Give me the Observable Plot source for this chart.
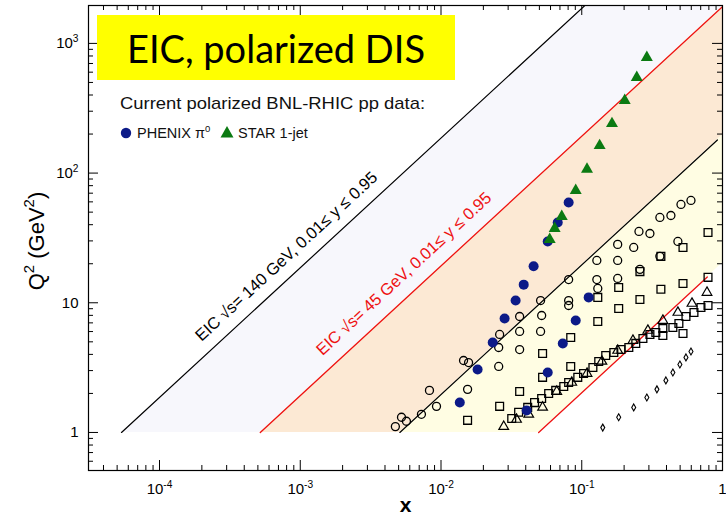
<!DOCTYPE html>
<html>
<head>
<meta charset="utf-8">
<script src="https://cdn.jsdelivr.net/npm/d3@7"></script>
<script src="https://cdn.jsdelivr.net/npm/@observablehq/plot@0.6"></script>
<style>
  html, body { margin: 0; padding: 0; background: #fff; }
  #wrap { position: relative; width: 726px; height: 519px; overflow: hidden; font-family: "Liberation Sans", Arial, sans-serif; }
  #chart { position: absolute; left: 0; top: 0; }
  #title { position: absolute; left: 97px; top: 15px; width: 358px; height: 65px; background: #ffff00; overflow: hidden; }
  #title span { position: absolute; left: 30px; top: 10px; font-family: Lato, "Open Sans", sans-serif; font-size: 39px; line-height: normal; white-space: nowrap; color: #000; transform-origin: left top; }
  #legtitle { position: absolute; left: 120px; top: 94px; font-size: 17px; line-height: normal; white-space: nowrap; color: #111; transform-origin: left top; }
  .legtxt { position: absolute; top: 125px; font-size: 14.5px; line-height: normal; white-space: nowrap; color: #111; }
  .legtxt sup { font-size: 9.5px; vertical-align: 6px; line-height: 0; }
  #legsym { position: absolute; left: 110px; top: 120px; width: 140px; height: 26px; }
</style>
</head>
<body>
<div id="wrap">
  <div id="chart"></div>
  <div id="title"><span id="titletext">EIC, polarized DIS</span></div>
  <div id="legtitle">Current polarized BNL-RHIC pp data:</div>
  <svg id="legsym" viewBox="0 0 140 26">
    <circle cx="16" cy="13" r="5.2" fill="#0c1a88"></circle>
    <path d="M117,6 L123.5,17.5 L110.5,17.5 Z" fill="#0b7a12"></path>
  </svg>
  <div class="legtxt" style="left:137px">PHENIX π<sup>0</sup></div>
  <div class="legtxt" style="left:238px">STAR 1-jet</div>
</div>
<script>
// ---------- data ----------
// PHENIX pi0 (filled blue circles)
const phenixX  = [0.0136, 0.0182, 0.0233, 0.0283, 0.0339, 0.0387, 0.0455, 0.0573, 0.0675, 0.0807, 0.0406, 0.0573, 0.0733, 0.0906, 0.112];
const phenixQ2 = [1.70, 3.06, 4.94, 7.57, 10.4, 13.8, 19.1, 29.7, 41.6, 59.3, 1.48, 2.90, 4.86, 7.30, 11.0];
// STAR 1-jet (filled green triangles)
const starX  = [0.0592, 0.0642, 0.0721, 0.0906, 0.109, 0.134, 0.164, 0.202, 0.246, 0.290];
const starQ2 = [30.8, 37.4, 46.3, 73.4, 107, 163, 241, 363, 546, 778];
// fixed-target polarized DIS data: open circles
const circX  = [0.00474, 0.00524, 0.00568, 0.00726, 0.00929, 0.00828, 0.01545, 0.01446, 0.0157, 0.0257, 0.0257, 0.0261, 0.0362, 0.0362, 0.0362, 0.0510, 0.0519, 0.0510, 0.0807, 0.0807, 0.0807, 0.128, 0.130, 0.128, 0.180, 0.180, 0.180, 0.255, 0.305, 0.234, 0.259, 0.359, 0.430, 0.507, 0.597, 0.482, 0.359];
const circQ2 = [1.11, 1.31, 1.22, 1.38, 1.59, 2.11, 2.15, 3.59, 3.46, 3.23, 4.52, 5.70, 4.36, 6.01, 7.84, 6.01, 7.98, 10.4, 9.53, 10.4, 15.1, 15.1, 12.9, 21.2, 21.2, 15.4, 28.2, 35.5, 34.2, 26.7, 18.1, 45.5, 47.1, 57.3, 61.5, 29.7, 22.8];
// open squares
const sqX  = [0.01545, 0.0261, 0.0362, 0.0527, 0.0527, 0.0835, 0.0835, 0.130, 0.130, 0.183, 0.183, 0.259, 0.259, 0.365, 0.365, 0.524, 0.524, 0.789, 0.789, 0.524,
              0.0318, 0.0356, 0.0413, 0.0462, 0.0519, 0.0582, 0.0653, 0.0745, 0.0807, 0.0937, 0.103, 0.120, 0.132, 0.148, 0.169, 0.190, 0.216, 0.242, 0.272, 0.305, 0.336, 0.377, 0.377, 0.444, 0.490, 0.550, 0.627, 0.703, 0.789];
const sqQ2 = [1.24, 1.59, 2.07, 2.66, 4.06, 3.23, 5.40, 7.18, 11.0, 9.04, 13.1, 10.6, 17.4, 12.7, 22.8, 14.1, 26.7, 15.7, 34.8, 5.80,
              1.28, 1.43, 1.56, 1.70, 1.83, 2.00, 2.11, 2.26, 2.43, 2.66, 2.85, 3.17, 3.53, 3.92, 4.14, 4.36, 4.52, 4.86, 5.30, 5.70, 5.90, 6.34, 5.60, 6.45, 6.92, 7.84, 8.42, 9.20, 9.53];
// open triangles
const triX  = [0.0279, 0.0344, 0.0420, 0.0527, 0.0664, 0.0849, 0.109, 0.139, 0.180, 0.231, 0.295, 0.377, 0.482, 0.607, 0.776];
const triQ2 = [1.11, 1.26, 1.38, 1.56, 2.07, 2.43, 2.85, 3.53, 4.29, 5.12, 6.12, 7.30, 8.42, 9.88, 12.0];
// small open diamonds
const diaX  = [0.141, 0.183, 0.234, 0.290, 0.342, 0.396, 0.444, 0.498, 0.550, 0.597];
const diaQ2 = [1.09, 1.31, 1.56, 1.86, 2.15, 2.52, 2.90, 3.34, 3.79, 4.21];

// kinematic boundary lines (end points)
const line140X = [5.37e-5, 0.12],  line140Q2 = [1, 2234];
const line45X  = [5.2e-4, 1.1],    line45Q2  = [1, 2116];
const lineLowBX = [5.1e-3, 0.92],  lineLowBQ2 = [1, 180];
const lineLowRX = [0.0494, 0.78],  lineLowRQ2 = [1, 15.8];

// shaded regions (x, lower Q2, upper Q2)
const lavX = [5.37e-5, 5.2e-4, 1.1], lavLo = [1, 1, 2116], lavHi = [1, 9.68, 20482];
const pchX = [5.2e-4, 5.1e-3, 1.1],  pchLo = [1, 1, 216],  pchHi = [1, 9.81, 2116];
const ylwX = [5.1e-3, 0.0494, 1.1],  ylwLo = [1, 1, 22.3], ylwHi = [1, 9.69, 216];

// annotations
const annText  = ["EIC \u221As= 140 GeV, 0.01\u2264 y \u2264 0.95", "EIC \u221As= 45 GeV, 0.01\u2264 y \u2264 0.95"];
const annX     = [8.46e-4, 5.78e-3];
const annQ2    = [21.2, 15.6];
const annColor = ["black", "#ee1111"];

// axes
const xDomain = [3.13e-5, 1];
const yDomain = [0.509, 1960];
const xMajor = [1e-4, 1e-3, 1e-2, 1e-1, 1];
const xLabels = ["10^-4", "10^-3", "10^-2", "10^-1", "1"];
const yMajor = [1, 10, 100, 1000];
const yLabels = ["1", "10", "10^2", "10^3"];
const xTitle = "x";
const yTitle = "Q^2 (GeV^2)";

// ---------- build ----------
const zip = (xs, ys) => xs.map((x, i) => ({x, y: ys[i]}));
const zip3 = (xs, lo, hi) => xs.map((x, i) => ({x, lo: lo[i], hi: hi[i]}));
const ann = annText.map((t, i) => ({t, x: annX[i], y: annQ2[i], c: annColor[i]}));

const xMinor = [], yMinor = [];
for (let e = -5; e <= -1; e++) for (let m = 2; m <= 9; m++) { const v = m * Math.pow(10, e); if (v > xDomain[0] && v < xDomain[1]) xMinor.push(v); }
for (let e = -1; e <= 3; e++) for (let m = 2; m <= 9; m++) { const v = m * Math.pow(10, e); if (v > yDomain[0] && v < yDomain[1]) yMinor.push(v); }

const W = 726, H = 519, mL = 88, mR = 4, mT = 5, mB = 49;
const pw = W - mL - mR, ph = H - mT - mB;
const majLen = 10, minLen = 5;

const chart = Plot.plot({
  width: W, height: H,
  marginLeft: mL, marginRight: mR, marginTop: mT, marginBottom: mB,
  style: {fontFamily: "'Liberation Sans', Arial, sans-serif", fontSize: "15px", color: "black", background: "transparent", overflow: "visible"},
  x: {type: "log", domain: xDomain},
  y: {type: "log", domain: yDomain},
  marks: [
    Plot.areaY(zip3(lavX, lavLo, lavHi), {x: "x", y1: "lo", y2: "hi", fill: "#f7f7fc", clip: true}),
    Plot.areaY(zip3(pchX, pchLo, pchHi), {x: "x", y1: "lo", y2: "hi", fill: "#fce9d4", clip: true}),
    Plot.areaY(zip3(ylwX, ylwLo, ylwHi), {x: "x", y1: "lo", y2: "hi", fill: "#fffde3", clip: true}),
    Plot.line(zip(line140X, line140Q2), {x: "x", y: "y", stroke: "black", strokeWidth: 1.2, clip: true}),
    Plot.line(zip(line45X, line45Q2), {x: "x", y: "y", stroke: "#ee1111", strokeWidth: 1.3, clip: true}),
    Plot.line(zip(lineLowBX, lineLowBQ2), {x: "x", y: "y", stroke: "black", strokeWidth: 1.2, clip: true}),
    Plot.line(zip(lineLowRX, lineLowRQ2), {x: "x", y: "y", stroke: "#ee1111", strokeWidth: 1.3, clip: true}),
    Plot.text(ann, {x: "x", y: "y", text: "t", fill: "c", rotate: -42.7, fontSize: 16.5, textAnchor: "middle", lineAnchor: "bottom"}),
    Plot.dot(zip(diaX, diaQ2), {x: "x", y: "y", symbol: "diamond", r: 2.1, stroke: "black", strokeWidth: 1.1, fill: "none"}),
    Plot.dot(zip(circX, circQ2), {x: "x", y: "y", symbol: "circle", r: 4, stroke: "black", strokeWidth: 1.3, fill: "none"}),
    Plot.dot(zip(sqX, sqQ2), {x: "x", y: "y", symbol: "square", r: 4.4, stroke: "black", strokeWidth: 1.3, fill: "none"}),
    Plot.dot(zip(triX, triQ2), {x: "x", y: "y", symbol: "triangle", r: 3.6, stroke: "black", strokeWidth: 1.2, fill: "none"}),
    Plot.dot(zip(phenixX, phenixQ2), {x: "x", y: "y", symbol: "circle", r: 5, fill: "#0c1a88"}),
    Plot.dot(zip(starX, starQ2), {x: "x", y: "y", symbol: "triangle", r: 4.45, fill: "#0b7a12"}),
    // inward ticks on all four sides
    Plot.ruleX(xMajor, {insetTop: ph - majLen, stroke: "black"}),
    Plot.ruleX(xMajor, {insetBottom: ph - majLen, stroke: "black"}),
    Plot.ruleX(xMinor, {insetTop: ph - minLen, stroke: "black"}),
    Plot.ruleX(xMinor, {insetBottom: ph - minLen, stroke: "black"}),
    Plot.ruleY(yMajor, {insetRight: pw - majLen, stroke: "black"}),
    Plot.ruleY(yMajor, {insetLeft: pw - majLen, stroke: "black"}),
    Plot.ruleY(yMinor, {insetRight: pw - minLen, stroke: "black"}),
    Plot.ruleY(yMinor, {insetLeft: pw - minLen, stroke: "black"}),
    Plot.axisX(xMajor, {anchor: "bottom", tickSize: 0, tickPadding: 13, tickFormat: d => xLabels[xMajor.indexOf(d)], fontSize: 15, label: null}),
    Plot.axisY(yMajor, {anchor: "left", tickSize: 0, tickPadding: 10, tickFormat: d => yLabels[yMajor.indexOf(d)], fontSize: 15, label: null}),
    Plot.text([xTitle], {frameAnchor: "bottom", dy: 35, fontSize: 21, fontWeight: "bold", textAnchor: "middle", lineAnchor: "middle"}),
    Plot.text([yTitle], {frameAnchor: "left", dx: -52, dy: 3, rotate: -90, fontSize: 22, textAnchor: "middle", lineAnchor: "middle"}),
    Plot.frame({stroke: "black", strokeWidth: 1.2})
  ]
});
document.getElementById("chart").appendChild(chart);

// turn "^n" into superscript tspans (real text)
const SVGNS = "http://www.w3.org/2000/svg";
chart.querySelectorAll("text").forEach(t => {
  const targets = t.querySelector("tspan") ? Array.from(t.querySelectorAll("tspan")) : [t];
  targets.forEach(el => {
    const s = el.textContent;
    if (!s.includes("^")) return;
    const fs = parseFloat(getComputedStyle(el).fontSize) || 15;
    const rise = 0.42 * fs, supFs = 0.68 * fs;
    const parts = s.split(/\^([-0-9]+)/);
    el.textContent = "";
    let up = false;
    parts.forEach((p, i) => {
      if (!p) return;
      const ts = document.createElementNS(SVGNS, "tspan");
      ts.textContent = p;
      if (i % 2) { ts.setAttribute("font-size", supFs); ts.setAttribute("dy", -rise); up = true; }
      else if (up) { ts.setAttribute("dy", rise); up = false; }
      el.appendChild(ts);
    });
  });
});

// fit text widths to the reference
const tt = document.getElementById("titletext");
const w = tt.getBoundingClientRect().width;
if (w > 0) tt.style.transform = `scaleX(${298 / w})`;
const lt = document.getElementById("legtitle");
const lw = lt.getBoundingClientRect().width;
if (lw > 0) lt.style.transform = `scaleX(${305 / lw})`;
</script>
</body>
</html>
